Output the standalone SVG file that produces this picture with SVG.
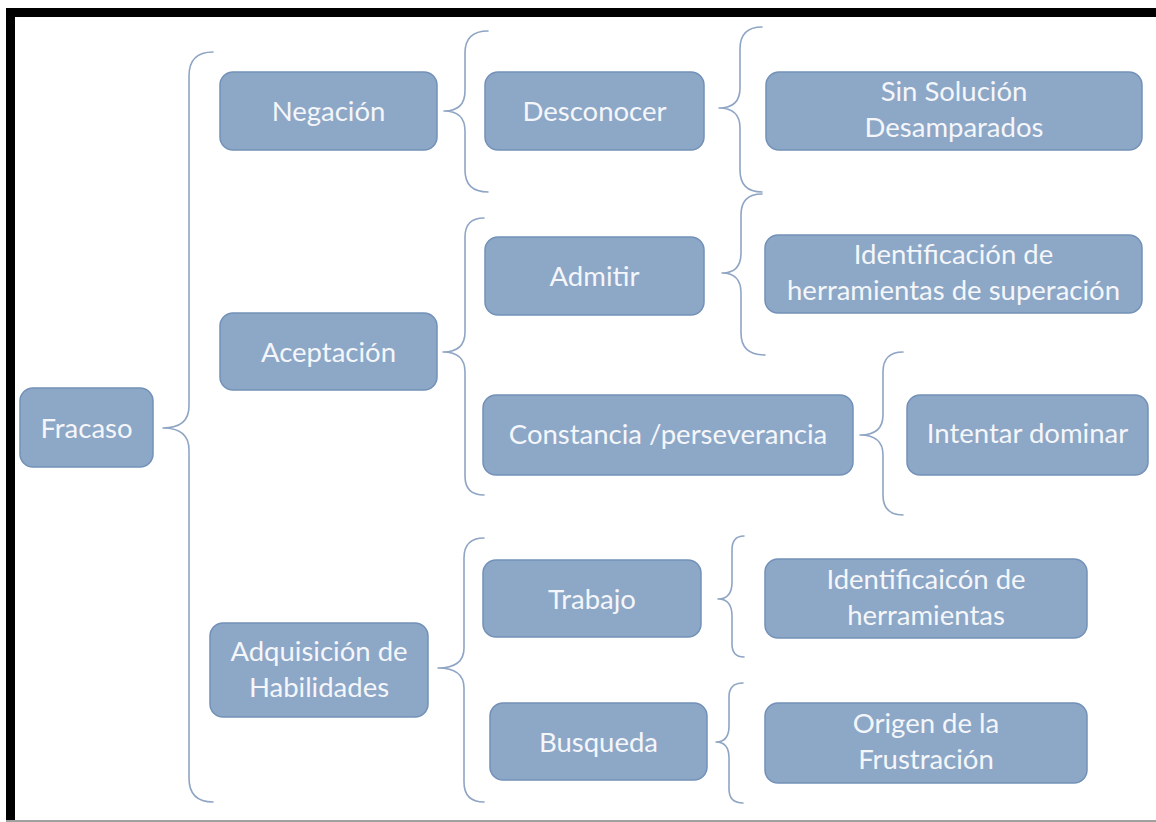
<svg xmlns="http://www.w3.org/2000/svg" width="1156" height="822" viewBox="0 0 1156 822">
<style>
.box{fill:#8da7c7;stroke:#7391b8;stroke-width:1.5}
.t{font-family:Lato,"Open Sans",sans-serif;font-size:27.5px;fill:#f4f6fa;text-anchor:middle}
.br{fill:none;stroke:#8fa5c4;stroke-width:1.6;stroke-linecap:round;stroke-linejoin:round}
</style>
<rect x="0" y="0" width="1156" height="822" fill="#ffffff"/>
<g id="frame">
<rect x="6" y="8" width="1150" height="9" fill="#000000"/>
<rect x="6" y="8" width="9" height="813" fill="#000000"/>
<rect x="6" y="820" width="1150" height="2" fill="#a0a0a0"/>
</g>
<g id="connectors">
<path class="br" d="M213 52 Q189 52 189 76 L189 406 Q189 428 163 428 Q189 428 189 450 L189 778 Q189 802 213 802"/>
<path class="br" d="M488 31 Q465 31 465 53 L465 91 Q465 111 444 111 Q465 111 465 131 L465 170 Q465 192 488 192"/>
<path class="br" d="M484 218 Q465 218 465 237 L465 332 Q465 352 443 352 Q465 352 465 372 L465 476 Q465 495 484 495"/>
<path class="br" d="M484 538 Q464 538 464 558 L464 648 Q464 668 438 668 Q464 668 464 688 L464 782 Q464 802 484 802"/>
<path class="br" d="M762 27 Q740 27 740 49 L740 88 Q740 108 719 108 Q740 108 740 128 L740 170 Q740 192 762 192"/>
<path class="br" d="M762 194 Q741 194 741 215 L741 253 Q741 273 722 273 Q741 273 741 293 L741 333 Q741 355 765 355"/>
<path class="br" d="M903 352 Q883 352 883 372 L883 415 Q883 435 860 435 Q883 435 883 455 L883 495 Q883 515 903 515"/>
<path class="br" d="M744 536 Q732 536 732 550 L732 582 Q732 599 718 599 Q732 599 732 616 L732 644 Q732 657 744 657"/>
<path class="br" d="M743 683 Q729 683 729 697 L729 726 Q729 742 716 742 Q729 742 729 758 L729 789 Q729 803 743 803"/>
</g>
<g id="n-fracaso"><rect class="box" x="20" y="388" width="133" height="79" rx="13"/><text class="t" x="86.5" y="438">Fracaso</text></g>
<g id="n-negacion"><rect class="box" x="220" y="72" width="217" height="78" rx="13"/><text class="t" x="328.5" y="121">Negación</text></g>
<g id="n-aceptacion"><rect class="box" x="220" y="313" width="217" height="77" rx="13"/><text class="t" x="328.5" y="362">Aceptación</text></g>
<g id="n-adquisicion"><rect class="box" x="210" y="623" width="218" height="94" rx="13"/><text class="t" x="319" y="661">Adquisición de</text><text class="t" x="319" y="697">Habilidades</text></g>
<g id="n-desconocer"><rect class="box" x="485" y="72" width="219" height="78" rx="13"/><text class="t" x="594.5" y="121">Desconocer</text></g>
<g id="n-admitir"><rect class="box" x="485" y="237" width="219" height="78" rx="13"/><text class="t" x="594.5" y="286">Admitir</text></g>
<g id="n-constancia"><rect class="box" x="483" y="395" width="370" height="80" rx="13"/><text class="t" x="668" y="444">Constancia /perseverancia</text></g>
<g id="n-trabajo"><rect class="box" x="483" y="560" width="218" height="77" rx="13"/><text class="t" x="592" y="609">Trabajo</text></g>
<g id="n-busqueda"><rect class="box" x="490" y="703" width="217" height="77" rx="13"/><text class="t" x="598.5" y="752">Busqueda</text></g>
<g id="n-sinsolucion"><rect class="box" x="766" y="72" width="376" height="78" rx="13"/><text class="t" x="954" y="101">Sin Solución</text><text class="t" x="954" y="137">Desamparados</text></g>
<g id="n-identificacion"><rect class="box" x="765" y="235" width="377" height="78" rx="13"/><text class="t" x="953.5" y="264">Identificación de</text><text class="t" x="953.5" y="300">herramientas de superación</text></g>
<g id="n-intentar"><rect class="box" x="907" y="395" width="241" height="80" rx="13"/><text class="t" x="1027.5" y="443">Intentar dominar</text></g>
<g id="n-identificaicon"><rect class="box" x="765" y="559" width="322" height="79" rx="13"/><text class="t" x="926" y="589">Identificaicón de</text><text class="t" x="926" y="625">herramientas</text></g>
<g id="n-origen"><rect class="box" x="765" y="703" width="322" height="80" rx="13"/><text class="t" x="926" y="733">Origen de la</text><text class="t" x="926" y="769">Frustración</text></g>
</svg>
